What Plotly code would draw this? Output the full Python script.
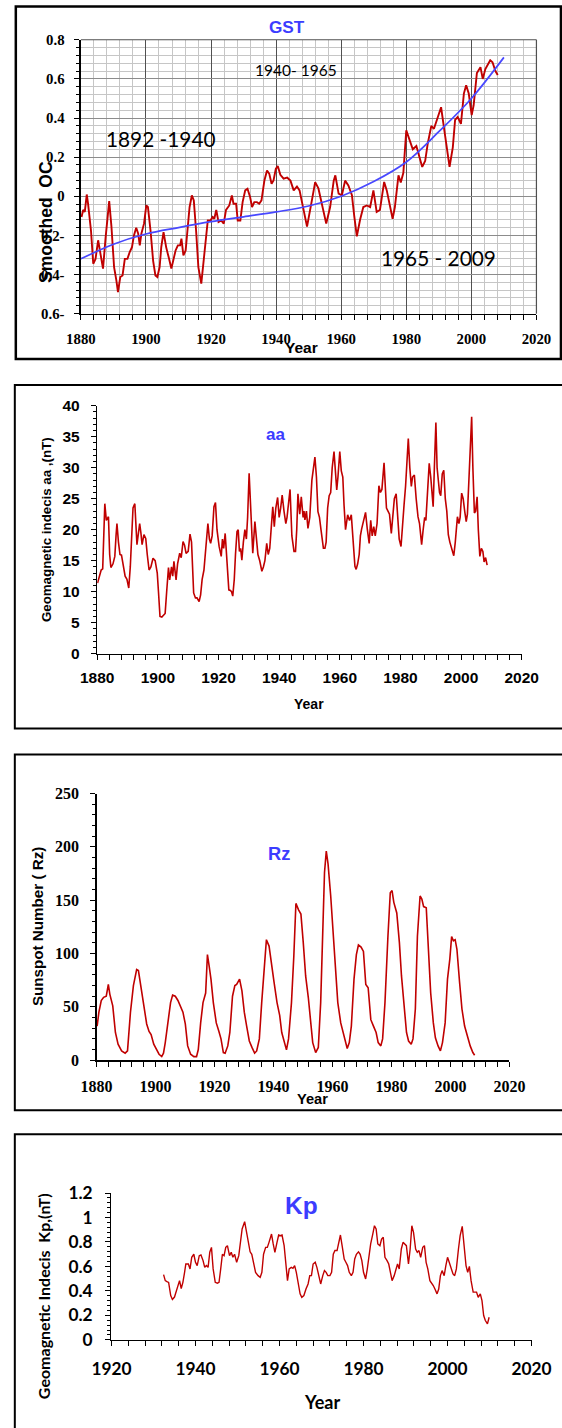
import plotly.graph_objects as go

# ---------------- DATA ----------------
gst_year = [1880.2, 1880.7, 1881.2, 1881.8, 1882.2, 1883.1, 1883.8, 1884.5, 1885.3, 1885.9,
            1886.8, 1887.6, 1888.2, 1888.7, 1889.4, 1890.2, 1890.9, 1891.4, 1892.1, 1892.8,
            1893.5, 1894.3, 1895.0, 1895.7, 1896.3, 1897.0, 1897.6, 1898.1, 1898.6, 1899.4,
            1900.1, 1900.6, 1901.4, 1902.2, 1902.9, 1903.5, 1904.2, 1904.7, 1905.4, 1906.2,
            1907.1, 1907.8, 1908.5, 1909.1, 1909.8, 1910.5, 1910.9, 1911.5, 1912.2, 1912.7,
            1913.4, 1914.1, 1914.7, 1915.4, 1916.1, 1917.0, 1917.7, 1918.3, 1919.0, 1919.8,
            1920.5, 1921.0, 1921.6, 1922.3, 1923.1, 1923.9, 1924.6, 1925.6, 1926.4, 1926.9,
            1927.7, 1928.2, 1929.0, 1929.7, 1930.5, 1931.2, 1932.0, 1932.6, 1933.3, 1934.1,
            1934.8, 1935.5, 1936.4, 1937.2, 1937.9, 1938.6, 1939.2, 1939.9, 1940.5, 1941.3,
            1942.3, 1943.4, 1944.4, 1945.4, 1946.4, 1947.2, 1948.3, 1949.5, 1951.0, 1952.0,
            1953.0, 1954.1, 1955.4, 1956.6, 1957.7, 1958.2, 1959.2, 1960.2, 1961.2, 1962.2,
            1963.3, 1964.0, 1964.8, 1965.8, 1966.8, 1967.9, 1968.9, 1969.9, 1970.9, 1971.9,
            1973.2, 1974.0, 1975.0, 1975.8, 1976.5, 1977.6, 1978.3, 1979.1, 1980.0, 1981.0,
            1982.0, 1983.1, 1984.1, 1984.9, 1985.8, 1986.6, 1987.7, 1988.5, 1989.4, 1990.7,
            1991.7, 1992.6, 1993.3, 1994.3, 1995.0, 1995.8, 1996.8, 1997.7, 1998.4, 1999.2,
            2000.1, 2000.7, 2001.7, 2002.8, 2003.5, 2004.3, 2005.0, 2005.8, 2006.5, 2007.4,
            2008.1]
gst_val = [-0.106, -0.07, -0.08, 0.009, -0.038, -0.175, -0.345, -0.32, -0.225, -0.277,
           -0.37, -0.21, -0.09, -0.025, -0.158, -0.362, -0.43, -0.49, -0.413, -0.405,
           -0.32, -0.32, -0.285, -0.26, -0.2, -0.161, -0.19, -0.251, -0.19, -0.14,
           -0.047, -0.055, -0.175, -0.33, -0.405, -0.413, -0.362, -0.26, -0.183, -0.26,
           -0.32, -0.37, -0.32, -0.277, -0.251, -0.251, -0.217, -0.302, -0.277, -0.183,
           -0.055, 0.004, -0.021, -0.175, -0.362, -0.447, -0.33, -0.21, -0.124, -0.124,
           -0.106, -0.115, -0.07, -0.132, -0.124, -0.14, -0.07, -0.047, 0.004, -0.038,
           -0.038, -0.124, -0.124, -0.03, 0.03, 0.038, -0.004, -0.055, -0.03, -0.03,
           -0.038, -0.021, 0.081, 0.132, 0.115, 0.064, 0.081, 0.14, 0.155, 0.11,
           0.09, 0.095, 0.08, 0.03, 0.05, 0.03, -0.055, -0.155, -0.02, 0.072,
           0.04, -0.04, -0.14, -0.055, 0.08, 0.107, 0.013, 0.005, 0.08, 0.055,
           0.005, -0.1, -0.205, -0.12, -0.055, -0.047, -0.055, 0.03, -0.08, -0.07,
           0.073, 0.03, -0.055, -0.115, -0.055, 0.107, 0.07, 0.12, 0.337, 0.285,
           0.24, 0.257, 0.2, 0.15, 0.18, 0.27, 0.36, 0.345, 0.39, 0.455,
           0.337, 0.217, 0.15, 0.25, 0.39, 0.405, 0.37, 0.525, 0.567, 0.525,
           0.415, 0.465, 0.63, 0.66, 0.6, 0.65, 0.67, 0.695, 0.685, 0.64,
           0.62]

trend_year = [1880, 1890, 1900, 1910, 1920, 1930, 1940, 1950, 1960, 1970, 1980, 1990, 2000, 2010]
trend_val = [-0.32, -0.245, -0.193, -0.16, -0.13, -0.105, -0.08, -0.05, 0.0, 0.075, 0.175, 0.33, 0.5, 0.71]

gst_tickvals = [-0.6, -0.4, -0.2, 0, 0.2, 0.4, 0.6, 0.8]
gst_ticktext = ["0.6-", "0.4-", "0.2-", "0", "0.2", "0.4", "0.6", "0.8"]

aa_year = [1880.1, 1880.7, 1881.3, 1881.8, 1882.2, 1882.5, 1883.0, 1883.7, 1884.1, 1884.5,
           1885.2, 1885.8, 1886.2, 1886.5, 1887.0, 1887.5, 1888.0, 1888.6, 1889.2, 1889.8,
           1890.4, 1890.9, 1891.4, 1891.8, 1892.4, 1892.8, 1893.1, 1893.6, 1894.0, 1894.4,
           1894.8, 1895.4, 1896.0, 1896.5, 1897.1, 1897.7, 1898.4, 1899.1, 1899.8, 1900.2,
           1900.7, 1901.3, 1901.9, 1902.4, 1902.9, 1903.5, 1903.9, 1904.5, 1904.9, 1905.3,
           1906.0, 1906.5, 1907.2, 1907.7, 1908.3, 1908.8, 1909.3, 1910.0, 1910.6, 1911.1,
           1911.8, 1912.4, 1912.9, 1913.6, 1914.1, 1914.6, 1915.2, 1915.8, 1916.5, 1917.0,
           1917.4, 1917.9, 1918.5, 1919.0, 1919.5, 1920.2, 1920.9, 1921.3, 1921.7, 1922.2,
           1922.8, 1923.4, 1923.9, 1924.3, 1924.7, 1925.2, 1925.6, 1926.1, 1926.5, 1926.9,
           1927.3, 1927.7, 1928.2, 1928.7, 1929.2, 1929.6, 1930.1, 1930.6, 1931.3, 1932.0,
           1932.5, 1933.0, 1933.6, 1934.3, 1934.8, 1935.3, 1935.9, 1936.4, 1936.9, 1937.4,
           1937.9, 1938.4, 1938.9, 1939.5, 1940.0, 1940.5, 1941.0, 1941.6, 1942.2, 1942.6,
           1943.1, 1943.6, 1944.2, 1944.9, 1945.4, 1945.8, 1946.2, 1946.8, 1947.3, 1947.9,
           1948.2, 1948.5, 1949.0, 1949.5, 1950.1, 1950.5, 1950.8, 1951.8, 1952.3, 1952.8,
           1953.3, 1953.8, 1954.2, 1954.6, 1955.1, 1955.5, 1956.0, 1956.5, 1957.0, 1957.5,
           1958.1, 1958.6, 1959.0, 1959.4, 1959.7, 1960.0, 1960.5, 1961.0, 1961.4, 1961.9,
           1962.6, 1963.2, 1963.8, 1964.4, 1965.0, 1965.4, 1965.9, 1966.4, 1966.8, 1967.2,
           1967.8, 1968.5, 1969.1, 1969.7, 1970.2, 1970.7, 1971.2, 1971.7, 1972.3, 1972.9,
           1973.4, 1973.9, 1974.6, 1975.0, 1975.4, 1975.9, 1976.4, 1977.0, 1977.5, 1978.0,
           1978.6, 1979.1, 1979.6, 1980.2, 1980.7, 1981.2, 1981.7, 1982.1, 1982.6, 1983.1,
           1983.6, 1984.0, 1984.6, 1985.2, 1985.8, 1986.3, 1987.0, 1987.5, 1988.0, 1988.4,
           1988.9, 1989.5, 1990.0, 1990.8, 1991.2, 1991.7, 1992.1, 1992.5, 1992.9, 1993.3,
           1993.8, 1994.3, 1994.8, 1995.3, 1995.8, 1996.3, 1996.9, 1997.6, 1998.1, 1998.8,
           1999.3, 1999.7, 2000.2, 2000.7, 2001.2, 2001.7, 2002.1, 2002.6, 2003.0, 2003.5,
           2003.9, 2004.4, 2004.8, 2005.3, 2005.7, 2006.2, 2006.7, 2007.2, 2007.6, 2008.1,
           2008.6]
aa_val = [11.4, 12.7, 13.5, 13.7, 19.0, 24.2, 21.5, 22.1, 16.0, 13.9,
          14.5, 15.7, 19.0, 21.0, 18.0, 16.0, 15.9, 14.0, 12.5, 12.0,
          10.6, 14.0, 18.5, 23.5, 24.2, 20.0, 17.6, 19.5, 21.0, 19.5,
          17.6, 19.2, 18.6, 16.0, 13.5, 14.0, 15.4, 15.0, 13.0, 10.0,
          6.0, 5.9, 6.2, 6.5, 10.0, 13.9, 11.9, 14.0, 12.5, 14.9,
          11.9, 14.5, 16.2, 15.5, 18.1, 17.5, 16.2, 16.5, 19.3, 18.0,
          9.8, 9.0, 9.0, 8.4, 9.5, 12.0, 13.5, 17.0, 21.0, 18.5,
          17.8, 19.0, 23.7, 24.4, 20.0, 17.3, 15.7, 18.5, 17.0, 19.4,
          14.0, 10.3, 10.2, 10.0, 9.3, 12.0, 16.0, 19.7, 20.0, 16.5,
          17.0, 15.1, 18.0, 20.0, 18.5, 22.0, 29.1, 24.0, 16.2, 21.3,
          18.0, 16.0, 15.0, 13.3, 14.0, 15.0, 17.8, 16.0, 17.0, 20.0,
          23.7, 20.5, 23.5, 25.2, 22.0, 23.5, 25.6, 23.0, 21.0, 22.0,
          24.0, 26.5, 19.0, 16.5, 16.5, 20.0, 25.8, 22.5, 25.3, 22.0,
          23.0, 21.6, 23.0, 20.2, 22.0, 26.0, 28.0, 31.7, 28.5, 22.9,
          22.0, 20.0, 18.0, 17.0, 17.0, 18.0, 23.5, 25.5, 26.0, 30.0,
          32.6, 29.0, 26.4, 28.5, 30.5, 32.6, 29.5, 28.5, 24.0, 20.0,
          22.4, 21.5, 22.4, 17.5, 14.1, 13.6, 14.5, 16.0, 19.0, 20.1,
          21.5, 22.8, 20.0, 17.8, 21.5, 19.0, 20.5, 19.0, 21.0, 27.1,
          26.0, 26.5, 30.8, 28.0, 23.5, 23.0, 22.5, 19.4, 22.0, 25.0,
          25.8, 22.0, 18.5, 17.3, 20.0, 24.0, 27.0, 31.0, 34.7, 30.0,
          27.0, 28.5, 28.8, 25.0, 22.1, 21.0, 17.6, 20.0, 22.0, 21.5,
          26.0, 30.7, 28.5, 23.7, 30.0, 37.3, 30.0, 27.8, 26.0, 25.5,
          29.0, 29.6, 25.0, 23.0, 19.2, 18.0, 17.0, 15.8, 18.0, 22.1,
          21.0, 22.0, 25.9, 25.0, 23.0, 21.3, 22.5, 28.0, 34.0, 38.2,
          30.0, 22.7, 23.0, 25.3, 20.0, 15.7, 17.0, 16.5, 14.8, 15.5,
          14.3]

rz_year = [1880.2, 1880.8, 1881.6, 1882.4, 1883.3, 1884.0, 1884.5, 1885.5, 1886.4, 1887.3,
           1888.5, 1889.7, 1890.5, 1891.5, 1892.5, 1893.6, 1894.2, 1895.2, 1896.0, 1897.0,
           1897.8, 1898.5, 1899.4, 1900.4, 1901.2, 1902.1, 1902.7, 1903.3, 1904.2, 1905.1,
           1905.8, 1906.7, 1907.6, 1908.5, 1909.3, 1910.1, 1910.9, 1911.9, 1913.0, 1913.9,
           1914.5, 1915.3, 1916.1, 1917.0, 1917.6, 1918.2, 1918.8, 1919.6, 1920.6, 1921.5,
           1922.2, 1923.0, 1923.6, 1924.5, 1925.2, 1926.1, 1926.9, 1927.5, 1928.5, 1929.3,
           1930.1, 1930.9, 1931.8, 1932.7, 1933.6, 1934.3, 1935.2, 1936.0, 1936.7, 1937.6,
           1938.5, 1939.4, 1940.2, 1941.2, 1942.1, 1942.8, 1943.6, 1944.4, 1945.1, 1946.1,
           1946.9, 1947.6, 1948.5, 1949.3, 1950.1, 1950.9, 1951.8, 1952.6, 1953.3, 1954.3,
           1955.2, 1956.0, 1956.7, 1957.3, 1957.9, 1958.5, 1959.4, 1960.2, 1961.0, 1961.8,
           1962.8, 1963.6, 1964.5, 1965.0, 1965.7, 1966.4, 1967.3, 1968.1, 1968.8, 1969.7,
           1970.5, 1971.3, 1972.1, 1973.0, 1973.9, 1974.8, 1975.5, 1976.4, 1977.0, 1977.8,
           1978.8, 1979.6, 1980.2, 1980.8, 1981.8, 1982.7, 1983.4, 1984.2, 1985.1, 1985.8,
           1986.7, 1987.3, 1988.1, 1988.8, 1989.7, 1990.3, 1990.9, 1991.8, 1992.5, 1993.3,
           1994.2, 1994.9, 1995.8, 1996.6, 1997.3, 1998.2, 1999.0, 1999.8, 2000.4, 2001.0,
           2001.6, 2002.2, 2003.1, 2003.9, 2004.8, 2005.7, 2006.7, 2007.6, 2008.2]
rz_val = [32, 45, 56, 59, 60, 71, 62, 51, 26, 15,
          8.7, 6.6, 8.7, 45, 70, 85, 84, 66, 51, 34,
          27, 24, 15, 9.4, 5.6, 3.4, 6.6, 16.5, 38, 54,
          61, 60, 56, 51, 45, 34, 13.4, 5.6, 3.4, 3.4,
          10, 35, 54, 63, 99, 88, 76, 54, 35, 27,
          20, 7.2, 6.6, 13.4, 26, 60, 70, 71, 76, 65,
          45, 32, 18, 12, 6.6, 8.7, 20, 54, 79, 113,
          107, 91, 73, 54, 42, 26, 16.5, 9.7, 20, 54,
          98, 147, 141, 137, 110, 79, 59, 32, 16.5, 7.2,
          12, 54, 116, 176, 196, 184, 154, 123, 85, 54,
          35, 26, 16.5, 11, 16.5, 32, 76, 99, 108, 106,
          102, 71, 68, 38, 32, 26, 16.5, 13.4, 20, 54,
          116, 157, 159, 148, 138, 110, 79, 54, 26, 18,
          15, 20, 48, 116, 154, 151, 144, 143, 98, 63,
          35, 21, 13.4, 8.7, 16.5, 35, 76, 95, 116, 112,
          113, 104, 73, 48, 32, 23, 13.4, 7.2, 4.7]

kp_year = [1932.4, 1932.8, 1933.2, 1933.6, 1934.1, 1934.5, 1935.0, 1935.4, 1935.8, 1936.2,
           1936.6, 1937.0, 1937.4, 1937.7, 1938.3, 1938.7, 1939.1, 1939.6, 1940.0, 1940.4,
           1940.9, 1941.3, 1941.8, 1942.2, 1942.6, 1943.0, 1943.4, 1943.8, 1944.2, 1944.7,
           1945.2, 1945.6, 1946.0, 1946.4, 1946.8, 1947.2, 1947.6, 1948.1, 1948.5, 1948.9,
           1949.3, 1949.8, 1950.3, 1950.7, 1951.1, 1951.7, 1952.1, 1952.6, 1953.0, 1953.4,
           1953.8, 1954.3, 1954.9, 1955.4, 1955.8, 1956.2, 1956.7, 1957.1, 1957.5, 1958.1,
           1958.5, 1958.9, 1959.4, 1959.8, 1960.2, 1960.6, 1961.1, 1961.5, 1961.9, 1962.3,
           1962.8, 1963.2, 1963.6, 1964.0, 1964.5, 1964.9, 1965.3, 1965.8, 1966.3, 1966.8,
           1967.2, 1967.6, 1968.0, 1968.5, 1968.9, 1969.3, 1969.8, 1970.3, 1970.7, 1971.1,
           1971.5, 1972.0, 1972.4, 1972.8, 1973.2, 1973.7, 1974.1, 1974.5, 1974.9, 1975.4,
           1975.8, 1976.2, 1976.6, 1977.1, 1977.5, 1977.9, 1978.3, 1978.8, 1979.2, 1979.6,
           1980.0, 1980.5, 1980.9, 1981.3, 1981.7, 1982.2, 1982.6, 1983.0, 1983.4, 1983.9,
           1984.3, 1984.7, 1985.1, 1985.6, 1986.0, 1986.4, 1986.8, 1987.3, 1987.7, 1988.1,
           1988.5, 1989.0, 1989.4, 1989.8, 1990.2, 1990.7, 1991.1, 1991.5, 1991.9, 1992.4,
           1992.8, 1993.2, 1993.6, 1994.1, 1994.5, 1994.9, 1995.3, 1995.8, 1996.2, 1996.6,
           1997.0, 1997.5, 1997.9, 1998.3, 1998.7, 1999.2, 1999.6, 2000.0, 2000.4, 2000.9,
           2001.3, 2001.7, 2002.1, 2002.6, 2003.0, 2003.5, 2003.9, 2004.4, 2004.8, 2005.2,
           2005.6, 2006.1, 2006.5, 2006.9, 2007.3, 2007.8, 2008.2, 2008.6, 2009.0, 2009.5,
           2009.9]
kp_val = [0.533, 0.484, 0.476, 0.47, 0.362, 0.33, 0.35, 0.39, 0.444, 0.484,
          0.42, 0.47, 0.552, 0.62, 0.62, 0.58, 0.675, 0.70, 0.634, 0.607,
          0.688, 0.694, 0.648, 0.593, 0.607, 0.593, 0.716, 0.756, 0.58, 0.47,
          0.463, 0.47, 0.58, 0.70, 0.688, 0.756, 0.77, 0.688, 0.716, 0.675,
          0.70, 0.634, 0.688, 0.797, 0.906, 0.966, 0.879, 0.77, 0.72, 0.70,
          0.62, 0.552, 0.525, 0.511, 0.552, 0.70, 0.756, 0.756, 0.797, 0.865,
          0.784, 0.716, 0.797, 0.857, 0.852, 0.857, 0.77, 0.634, 0.484, 0.58,
          0.593, 0.585, 0.607, 0.552, 0.444, 0.376, 0.348, 0.362, 0.416, 0.457,
          0.525, 0.525, 0.62, 0.634, 0.593, 0.525, 0.457, 0.525, 0.566, 0.552,
          0.525, 0.525, 0.552, 0.70, 0.73, 0.73, 0.811, 0.857, 0.77, 0.661,
          0.634, 0.607, 0.552, 0.525, 0.552, 0.661, 0.70, 0.72, 0.70, 0.648,
          0.552, 0.498, 0.58, 0.70, 0.784, 0.865, 0.933, 0.906, 0.784, 0.77,
          0.824, 0.838, 0.675, 0.648, 0.62, 0.552, 0.484, 0.525, 0.58, 0.62,
          0.58, 0.743, 0.797, 0.784, 0.77, 0.62, 0.743, 0.933, 0.879, 0.743,
          0.716, 0.73, 0.675, 0.756, 0.77, 0.634, 0.58, 0.484, 0.465, 0.444,
          0.416, 0.376, 0.416, 0.525, 0.566, 0.525, 0.607, 0.675, 0.634, 0.58,
          0.539, 0.525, 0.58, 0.743, 0.852, 0.928, 0.797, 0.607, 0.552, 0.601,
          0.484, 0.39, 0.39, 0.39, 0.348, 0.376, 0.321, 0.199, 0.158, 0.131,
          0.185]

# ---------------- STYLE / GEOMETRY ----------------
W, H = 562, 1428
# the photographed page shows the figure slightly inset; positions below are given
# in target-picture pixels and converted to page pixels with this measured mapping
SX, OX, SY, OY = 0.932, 18.2, 0.9865, 10.5
RED = "#c00000"
BLUE = "#4848ff"
TITLE_BLUE = "#3c3cff"
SANS = "Liberation Sans, Arial, sans-serif"
SERIF = "Liberation Serif, Times New Roman, serif"
LATO = "Lato, Carlito, sans-serif"


def px(X):
    return ((X - OX) / SX) / W


def py(Y):
    return 1 - ((Y - OY) / SY) / H


def f(family, size, color="black", bold=True):
    return dict(family=family, size=size, color=color, weight="bold" if bold else "normal")


fig = go.Figure()

fig.add_trace(go.Scatter(x=gst_year, y=gst_val, mode="lines", xaxis="x", yaxis="y",
                         line=dict(color=RED, width=1.9), showlegend=False, hoverinfo="skip"))
fig.add_trace(go.Scatter(x=trend_year, y=trend_val, mode="lines", xaxis="x", yaxis="y",
                         line=dict(color=BLUE, width=1.7, shape="spline"), showlegend=False,
                         hoverinfo="skip"))
fig.add_trace(go.Scatter(x=aa_year, y=aa_val, mode="lines", xaxis="x2", yaxis="y2",
                         line=dict(color=RED, width=1.6), showlegend=False, hoverinfo="skip"))
fig.add_trace(go.Scatter(x=rz_year, y=rz_val, mode="lines", xaxis="x3", yaxis="y3",
                         line=dict(color=RED, width=1.6), showlegend=False, hoverinfo="skip"))
fig.add_trace(go.Scatter(x=kp_year, y=kp_val, mode="lines", xaxis="x4", yaxis="y4",
                         line=dict(color=RED, width=1.4), showlegend=False, hoverinfo="skip"))


def xax(X0, X1, rng, font, standoff, grid=False):
    return dict(domain=[px(X0), px(X1)], range=rng, tickmode="linear",
                tick0=rng[0], dtick=20, ticks="outside", ticklen=5, tickcolor="black",
                tickwidth=1, showline=True, linecolor="black", linewidth=1.4,
                zeroline=False, tickfont=font, ticklabelstandoff=standoff,
                showgrid=grid, gridcolor="#505050", gridwidth=1, fixedrange=True,
                minor=dict(tick0=rng[0], dtick=4, ticks="outside", ticklen=5,
                           tickcolor="black", showgrid=grid, gridcolor="#c6c6c6", gridwidth=1))


def yax(Ytop, Ybot, rng, dtick, mdtick, font, standoff, grid=False, **kw):
    d = dict(domain=[py(Ybot), py(Ytop)], range=rng, tickmode="linear",
             tick0=0, dtick=dtick, ticks="outside", ticklen=5, tickcolor="black",
             showline=True, linecolor="black", linewidth=1.4, zeroline=False,
             tickfont=font, ticklabelstandoff=standoff, fixedrange=True,
             showgrid=grid, gridcolor="#8c8c8c", gridwidth=1,
             minor=dict(tick0=0, dtick=mdtick, ticks="outside", ticklen=3,
                        tickcolor="black", showgrid=grid, gridcolor="#c6c6c6", gridwidth=1))
    d.update(kw)
    return d


layout = dict(
    width=W, height=H, autosize=False,
    margin=dict(l=0, r=0, t=0, b=0, pad=0),
    paper_bgcolor="white", plot_bgcolor="white",
    showlegend=False,
    xaxis=xax(79.3, 536.4, [1880, 2020], f(SERIF, 14.8), 6, grid=True),
    yaxis=yax(39.3, 313.5, [-0.6, 0.8], 0.2, 0.04, f(SERIF, 14.8), 7, grid=True,
              tickmode="array", tickvals=gst_tickvals, ticktext=gst_ticktext),
    xaxis2=xax(95.7, 521.6, [1880, 2020], f(SANS, 15.5), 4),
    yaxis2=yax(405.7, 654, [0, 40], 5, 1, f(SANS, 15.5), 8),
    xaxis3=xax(95, 509.3, [1880, 2020], f(SERIF, 16), 6),
    yaxis3=yax(794, 1061, [0, 250], 50, 10, f(SERIF, 16), 8),
    xaxis4=xax(110, 531.5, [1920, 2020], f(LATO, 17.3), 8),
    yaxis4=yax(1194, 1341, [0, 1.2], 0.2, 0.04, f(LATO, 17.3), 9, tickformat="~g"),
)
layout["xaxis"]["anchor"] = "y"
layout["yaxis"]["anchor"] = "x"
for i in (2, 3, 4):
    layout["xaxis%d" % i]["anchor"] = "y%d" % i
    layout["yaxis%d" % i]["anchor"] = "x%d" % i
fig.update_layout(**layout)

shapes = []
for (X0, Y0, X1, Y1, w) in [(14, 6, 561, 359, 2.5), (13, 385, 610, 729, 2),
                            (13, 755, 610, 1111, 2), (13, 1135, 610, 1460, 2)]:
    shapes.append(dict(type="rect", xref="paper", yref="paper", x0=px(X0), x1=px(X1),
                       y0=py(Y1), y1=py(Y0), line=dict(color="black", width=w),
                       fillcolor="rgba(0,0,0,0)", layer="above"))
# grey top / right frame of the GST plot area
shapes.append(dict(type="line", xref="paper", yref="paper", x0=px(79.3), x1=px(536.4),
                   y0=py(39.3), y1=py(39.3), line=dict(color="#505050", width=1.2)))
shapes.append(dict(type="line", xref="paper", yref="paper", x0=px(536.4), x1=px(536.4),
                   y0=py(313.5), y1=py(39.3), line=dict(color="#505050", width=1.2)))
fig.update_layout(shapes=shapes)


def ann(text, X, Y, font, angle=0):
    fig.add_annotation(text=text, x=px(X), y=py(Y), xref="paper", yref="paper",
                       showarrow=False, xanchor="center", yanchor="middle",
                       textangle=angle, font=font)


# panel titles
ann("GST", 286, 27, f(SANS, 17.2, TITLE_BLUE))
ann("aa", 275, 435, f(SANS, 17, TITLE_BLUE))
ann("Rz", 278, 854, f(SANS, 18.3, TITLE_BLUE))
ann("Kp", 301, 1206, f(SANS, 24.5, TITLE_BLUE))

# period labels on the GST panel
ann("1892 -1940", 159.5, 138, f(LATO, 20.8, bold=False))
ann("1940- 1965", 295.5, 70, f(LATO, 15.5, bold=False))
ann("1965 - 2009", 438, 257, f(LATO, 20.8, bold=False))

# axis titles
ann("Smoothed  OC", 45, 222, f(SANS, 17.5), -90)
ann("Year", 301, 347, f(SANS, 15.5))
ann("Geomagnetic indecis aa ,(nT)", 45.5, 530, f(SANS, 13.3), -90)
ann("Year", 308, 704, f(SANS, 14))
ann("Sunspot Number ( Rz)", 36, 927, f(SANS, 15.2), -90)
ann("Year", 312, 1100, f(SANS, 14.6))
ann("Geomagnetic Indecis  Kp,(nT)", 42.5, 1297, f(LATO, 16), -90)
ann("Year", 321, 1403, f(LATO, 18))

fig.write_html(
    "out.html",
    config={"displayModeBar": False, "responsive": False, "staticPlot": True},
    post_script=("document.documentElement.style.margin='0px';"
                 "document.body.style.margin='0px';"
                 "document.documentElement.style.overflow='hidden';"
                 "document.body.style.overflow='hidden';"),
)
